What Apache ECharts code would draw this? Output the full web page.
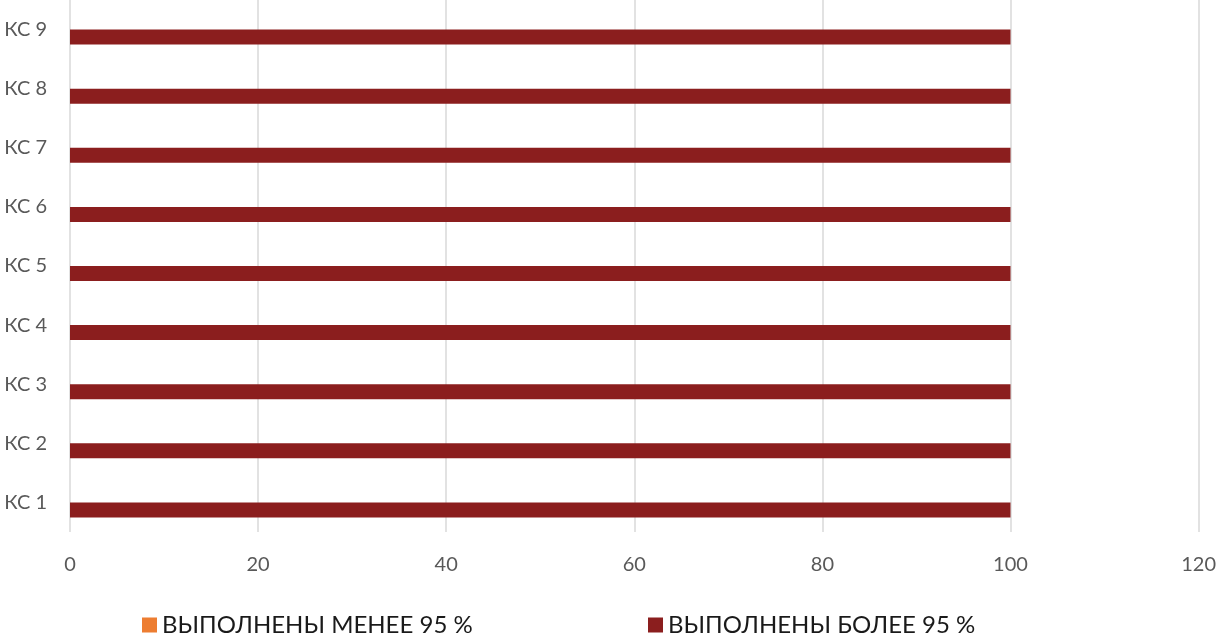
<!DOCTYPE html>
<html>
<head>
<meta charset="utf-8">
<script src="https://cdn.jsdelivr.net/npm/echarts@6/dist/echarts.min.js"></script>
<style>
  html, body { margin: 0; padding: 0; background: #fff; }
  #chart { width: 1219px; height: 639px; }
</style>
</head>
<body>
<div id="chart"></div>
<script>
// categories (bottom to top)
var stations = ['КС 1', 'КС 2', 'КС 3', 'КС 4', 'КС 5', 'КС 6', 'КС 7', 'КС 8', 'КС 9'];
// series values
var lessThan95 = [0, 0, 0, 0, 0, 0, 0, 0, 0];
var moreThan95 = [100, 100, 100, 100, 100, 100, 100, 100, 100];
var seriesNames = ['ВЫПОЛНЕНЫ МЕНЕЕ 95 %', 'ВЫПОЛНЕНЫ БОЛЕЕ 95 %'];

var chart = echarts.init(document.getElementById('chart'));

chart.setOption({
  animation: false,
  textStyle: { fontFamily: 'Lato, "Open Sans", sans-serif' },
  color: ['#ED7D31', '#8B1E1E'],
  grid: { left: 70, right: 20, top: 0, bottom: 107 },
  legend: [
    {
      data: [seriesNames[0]],
      left: 137, top: 608,
      itemWidth: 15, itemHeight: 15,
      icon: 'rect',
      textStyle: { fontSize: 24, color: '#1a1a1a' }
    },
    {
      data: [seriesNames[1]],
      left: 643, top: 608,
      itemWidth: 15, itemHeight: 15,
      icon: 'rect',
      textStyle: { fontSize: 24, color: '#1a1a1a' }
    }
  ],
  xAxis: {
    type: 'value',
    min: 0, max: 120, interval: 20,
    axisLine: { show: false },
    axisTick: { show: false },
    axisLabel: { fontSize: 20, color: '#595959', margin: 23 },
    splitLine: { lineStyle: { color: '#d9d9d9', width: 1.5 } }
  },
  yAxis: {
    type: 'category',
    data: stations,
    axisLine: { show: false },
    axisTick: { show: false },
    axisLabel: { fontSize: 20, color: '#595959', margin: 23 }
  },
  series: [
    {
      name: seriesNames[0],
      type: 'bar',
      data: lessThan95,
      barWidth: 15,
      barGap: 0
    },
    {
      name: seriesNames[1],
      type: 'bar',
      data: moreThan95,
      barWidth: 15,
      barGap: 0
    }
  ]
});
</script>
</body>
</html>
